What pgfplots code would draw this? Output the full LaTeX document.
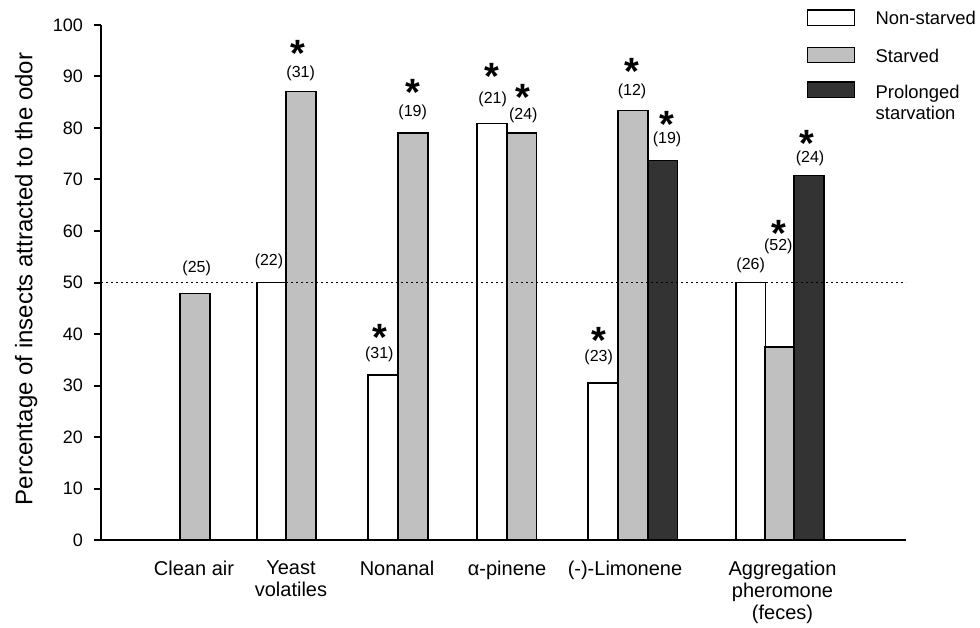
\documentclass[border=0pt]{standalone}
\usepackage{fontspec}
\setmainfont{Liberation Sans}
\usepackage{pgfplots}
\pgfplotsset{compat=1.18}

\definecolor{barwhite}{HTML}{FFFFFF}
\definecolor{bargray}{HTML}{C0C0C0}
\definecolor{bardark}{HTML}{333333}

% x positions are the bar centres, in pixels of the original figure
\pgfplotstableread{
x      y
271.7  50.0
383.0  32.0
492.0  80.9
603.0  30.5
750.7  50.0
}\nonstarved
\pgfplotstableread{
x      y
195.0  47.9
301.0  87.1
413.0  79.0
521.7  79.0
633.0  83.4
779.5  37.5
}\starved
\pgfplotstableread{
x      y
662.9  73.7
809.0  70.8
}\prolonged

\tikzset{
  nlab/.style={font=\fontsize{8}{8}\selectfont, inner sep=0pt, anchor=center},
  sig/.style={font=\fontsize{19}{19}\selectfont\bfseries, inner sep=0pt, anchor=base, yshift=-10.4pt},
}

\begin{document}
\begin{tikzpicture}
\useasboundingbox (0,0) rectangle (490pt,313.5pt);
\begin{axis}[
    at={(50.5pt,43.5pt)}, anchor=south west,
    scale only axis,
    width=402.5pt, height=257.5pt,
    xmin=101, xmax=906,
    ymin=0, ymax=100,
    ytick distance=10,
    axis lines=left,
    axis line style={-, line width=1pt},
    every tick/.style={black, line width=1pt},
    tick align=outside,
    major tick length=3.35pt,
    x tick style={draw=none},
    xtick={194,291,397,507,625,782.5},
    xticklabels={Clean air, Yeast\\volatiles, Nonanal, α-pinene, (-)-Limonene, Aggregation\\pheromone\\(feces)},
    xticklabel style={font=\fontsize{10}{11}\selectfont, align=center, anchor=north, inner sep=0pt, yshift=-7pt},
    yticklabel style={font=\fontsize{9}{9}\selectfont, inner sep=0pt, xshift=-5.5pt},
    /pgf/number format/assume math mode=true,
    ylabel={Percentage of insects attracted to the odor},
    ylabel style={font=\fontsize{12}{12}\selectfont, at={(axis description cs:-0.0853,0.507)}, anchor=base},
    clip=false,
]
\addplot[ybar, bar width=29.5, bar shift=0pt, fill=barwhite, draw=black, line width=0.8pt] table {\nonstarved};
\addplot[ybar, bar width=29.5, bar shift=0pt, fill=bargray, draw=black, line width=0.8pt] table {\starved};
\addplot[ybar, bar width=29.5, bar shift=0pt, fill=bardark, draw=black, line width=0.8pt] table {\prolonged};
\addplot[black, line width=0.8pt, dash pattern=on 0.8pt off 1.7pt] coordinates {(101,50) (906,50)};

% sample sizes and significance marks
\node[nlab] at (axis cs:196.7,52.8) {(25)};
\node[nlab] at (axis cs:269.0,54.2) {(22)};
\node[nlab] at (axis cs:300.7,90.6) {(31)};
\node[sig]  at (axis cs:298.3,95.9) {*};
\node[nlab] at (axis cs:379.3,36.1) {(31)};
\node[sig]  at (axis cs:380.0,40.9) {*};
\node[nlab] at (axis cs:412.7,83.1) {(19)};
\node[sig]  at (axis cs:413.3,88.5) {*};
\node[nlab] at (axis cs:492.7,85.6) {(21)};
\node[sig]  at (axis cs:492.3,91.6) {*};
\node[nlab] at (axis cs:523.3,82.4) {(24)};
\node[sig]  at (axis cs:523.3,87.5) {*};
\node[nlab] at (axis cs:598.7,35.5) {(23)};
\node[sig]  at (axis cs:599.3,40.3) {*};
\node[nlab] at (axis cs:632.0,87.2) {(12)};
\node[sig]  at (axis cs:632.0,92.4) {*};
\node[nlab] at (axis cs:667.0,77.7) {(19)};
\node[sig]  at (axis cs:667.3,82.2) {*};
\node[nlab] at (axis cs:750.7,53.4) {(26)};
\node[nlab] at (axis cs:778.3,57.1) {(52)};
\node[sig]  at (axis cs:778.7,61.0) {*};
\node[nlab] at (axis cs:810.0,74.2) {(24)};
\node[sig]  at (axis cs:807.3,78.6) {*};
\end{axis}

% legend
\begin{scope}[line width=0.7pt, font=\fontsize{9.2}{9.2}\selectfont]
\draw[fill=barwhite] (403.85pt,300.85pt) rectangle (427.15pt,308.5pt);
\draw[fill=bargray]  (403.85pt,282.35pt) rectangle (427.15pt,289.85pt);
\draw[fill=bardark]  (403.85pt,264.65pt) rectangle (427.15pt,272.5pt);
\node[anchor=base west, inner sep=0pt] at (437.5pt,301.05pt) {Non-starved};
\node[anchor=base west, inner sep=0pt] at (437.5pt,282.2pt) {Starved};
\node[anchor=base west, inner sep=0pt] at (437.5pt,264.05pt) {Prolonged};
\node[anchor=base west, inner sep=0pt] at (437.5pt,253.85pt) {starvation};
\end{scope}
\end{tikzpicture}
\end{document}
